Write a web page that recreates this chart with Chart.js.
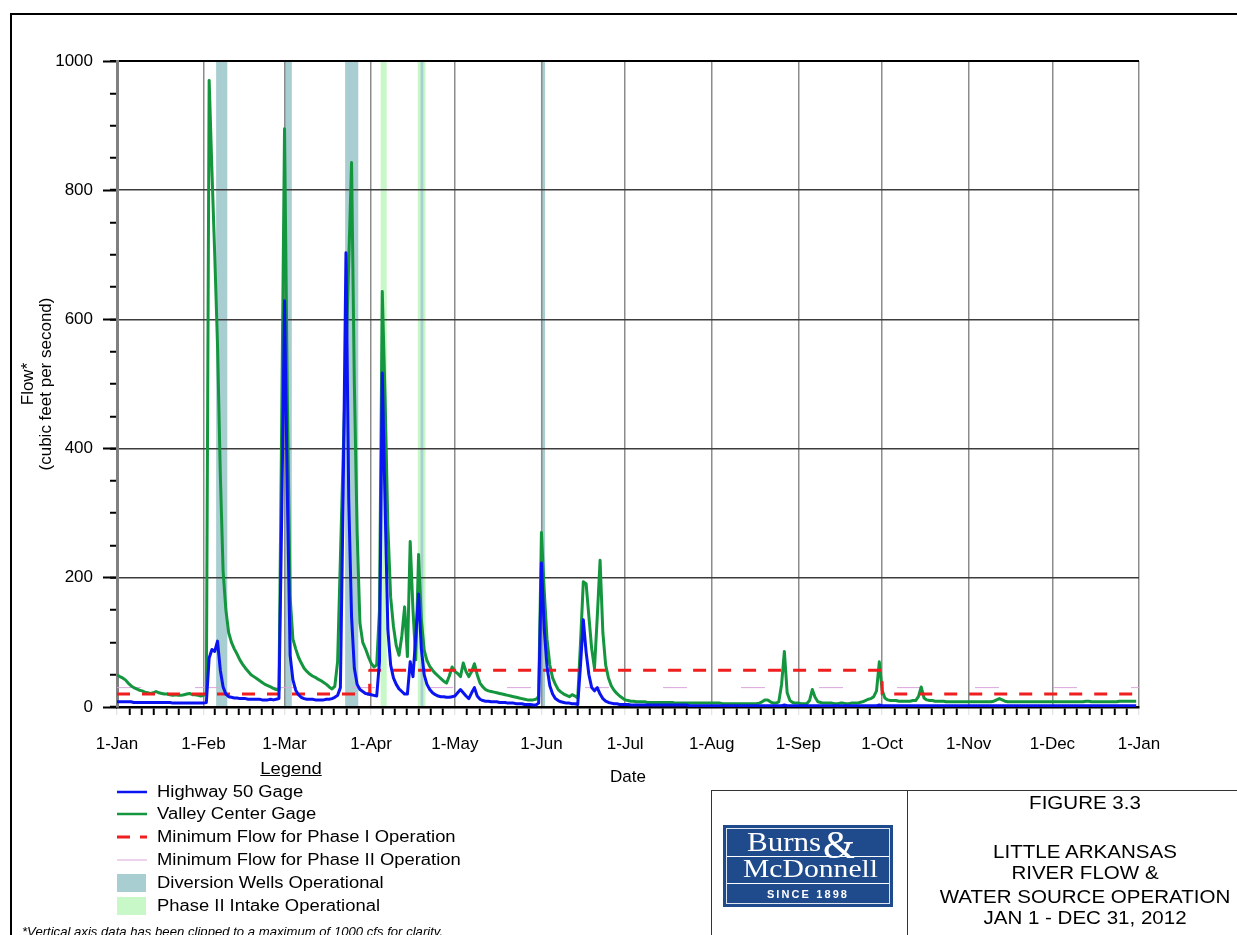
<!DOCTYPE html>
<html>
<head>
<meta charset="utf-8">
<title>Little Arkansas River Flow 2012</title>
<script src="https://cdn.jsdelivr.net/npm/chart.js@4.4.1/dist/chart.umd.min.js"></script>
<style>
  html, body { margin: 0; padding: 0; background: #fff; overflow: hidden; }
  body { width: 1237px; height: 935px; position: relative; font-family: 'Liberation Sans', Arial, sans-serif; color: #000; }
  #chart { position: absolute; left: 0; top: 0; }
  .frame { position: absolute; left: 10px; top: 13px; width: 1300px; height: 1000px; border: 2px solid #000; pointer-events: none; }
  .legend-title { position: absolute; left: 240px; width: 102px; top: 760px; text-align: center; font-size: 16px; text-decoration: underline; transform: scaleX(1.15); }
  .legend-row { position: absolute; left: 117px; height: 20px; width: 400px; }
  .legend-row svg { position: absolute; left: 0; top: 0; }
  .legend-row span { position: absolute; left: 40px; top: 0; line-height: 20px; font-size: 16px; white-space: nowrap; transform: scaleX(1.15); transform-origin: left center; }
  .note { position: absolute; left: 22px; top: 924px; font-size: 13px; line-height: 15px; font-style: italic; white-space: nowrap; transform: scaleX(1.01); transform-origin: left center; }
  .block { position: absolute; left: 711px; top: 790px; width: 600px; height: 200px; border: 1.5px solid #333; }
  .divider { position: absolute; left: 907px; top: 790px; width: 0; height: 200px; border-left: 1.5px solid #333; }
  .tline { position: absolute; left: 908px; width: 354px; text-align: center; font-size: 18.5px; line-height: 22px; white-space: nowrap; transform: scaleX(1.11); }
  .logo { position: absolute; left: 723px; top: 825px; width: 170px; height: 82px; background: #1f4a8b; color: #fff; overflow: hidden; }
  .logo .inner { position: absolute; left: 3px; top: 3px; right: 3px; bottom: 3px; border: 1px solid rgba(255,255,255,0.85); }
  .logo .serif { position: absolute; font-family: 'Liberation Serif', 'DejaVu Serif', serif; line-height: 1; white-space: nowrap; transform-origin: left center; }
  .logo .rule { position: absolute; left: 4px; right: 4px; height: 1px; background: #fff; }
  .logo .since { position: absolute; left: 0; right: 0; top: 63px; text-align: center; font-size: 11px; font-weight: bold; letter-spacing: 2.1px; line-height: 12px; }
</style>
</head>
<body>
<canvas id="chart" width="1237" height="935"></canvas>
<div class="frame"></div>
<div id="legend"></div>
<div class="note">*Vertical axis data has been clipped to a maximum of 1000 cfs for clarity.</div>
<div class="block"></div>
<div class="divider"></div>
<div class="logo">
  <div class="inner"></div>
  <div class="rule" style="top:31px"></div>
  <div class="rule" style="top:58px"></div>
  <span class="serif" style="left:24px;top:4px;font-size:27px;transform:scaleX(1.15)">Burns</span>
  <span class="serif" style="left:100px;top:-1px;font-size:41px">&amp;</span>
  <span class="serif" style="left:20px;top:31px;font-size:26px;transform:scaleX(1.14)">McDonnell</span>
  <div class="since">SINCE 1898</div>
</div>
<div class="tline" style="top:792px">FIGURE 3.3</div>
<div class="tline" style="top:841px">LITTLE ARKANSAS</div>
<div class="tline" style="top:862px">RIVER FLOW &amp;</div>
<div class="tline" style="top:886px">WATER SOURCE OPERATION</div>
<div class="tline" style="top:907px">JAN 1 - DEC 31, 2012</div>
<script>
// Daily flow in cfs, 2012 (leap year)
const highwayJan = [8,8,8,8,8,8,7,7,7,7, 7,7,7,7,7,7,7,7,7,7, 6,6,6,6,6,6,6,6,6,6, 6];
const highwayFeb = [6,7,76,89,86,102,57,31,20,16, 15,14,14,13,13,13,12,12,12,12, 12,11,11,11,12,11,12,13,300];
const highwayMar = [629,330,80,42,26,19,15,13,12,12, 12,11,11,11,11,12,12,13,15,18, 30,330,703,320,140,60,35,27,24,21, 20];
const highwayApr = [19,18,17,70,517,315,120,65,45,35, 28,24,20,20,70,47,110,175,90,50, 35,27,22,19,17,16,16,15,15,16];
const highwayMay = [17,22,27,22,17,13,22,30,17,12, 10,9,9,8,8,8,7,7,7,6, 6,6,5,5,5,4,4,4,3,3, 6];
const highwayJun = [223,120,62,33,20,13,10,8,7,6, 6,5,5,4,65,135,85,50,30,25, 30,20,13,9,7,6,5,5,4,4];
const highwayJul = [4,4,3,3,3,3,3,3,3,3, 3,3,3,3,3,3,3,3,3,3, 3,3,3,2,2,2,2,2,2,2, 2];
const highwayAug = [2,2,2,2,2,2,2,2,2,2, 2,2,2,2,2,2,2,2,2,2, 2,2,2,2,2,2,3,2,2,2, 2];
const highwaySep = [2,2,2,2,2,2,2,2,2,2, 2,2,2,2,2,2,2,2,2,2, 2,2,2,2,2,2,2,2,2,3];
const highwayOct = [2,2,2,2,2,2,2,2,2,2, 2,2,2,2,2,2,2,2,2,2, 2,2,2,2,2,2,2,2,2,2, 2];
const highwayNov = [2,2,2,2,2,2,2,2,2,2, 2,2,2,2,2,2,2,2,2,2, 2,2,2,2,2,2,2,2,2,2];
const highwayDec = [2,2,2,2,2,2,2,2,2,2, 2,2,2,2,2,2,2,2,2,2, 2,2,2,2,2,2,2,2,2,2, 2];

const valleyJan = [50,47,45,42,37,33,30,28,26,25, 23,22,21,22,24,22,21,20,20,19, 18,19,18,18,19,20,21,19,19,18, 17];
const valleyFeb = [18,22,970,830,700,560,360,210,150,115, 100,90,82,73,66,60,55,50,47,44, 41,38,35,33,31,29,27,26,450];
const valleyMar = [895,480,170,105,90,77,68,60,55,51, 48,46,43,41,38,35,31,28,32,70, 230,390,540,690,843,500,270,130,100,90, 78];
const valleyApr = [68,62,65,150,643,480,280,170,125,95, 80,110,155,78,256,150,73,236,135,88, 72,63,57,52,48,44,40,37,48,62];
const valleyMay = [55,52,47,68,55,47,55,67,50,37, 31,27,25,24,23,22,21,20,19,18, 17,16,15,14,13,12,11,11,11,12, 16];
const valleyJun = [270,180,105,65,45,35,27,23,20,18, 16,19,17,14,100,194,191,140,90,60, 140,227,115,65,45,33,26,21,17,14];
const valleyJul = [11,10,9,9,8,8,8,8,7,7, 7,7,7,7,7,7,7,7,6,6, 6,6,6,6,6,6,6,6,6,6, 6];
const valleyAug = [6,6,6,6,5,5,5,5,5,5, 5,5,5,5,5,5,5,6,8,11, 11,8,6,6,8,35,86,22,10,7, 6];
const valleySep = [6,5,5,5,10,27,15,8,7,6, 6,6,6,5,5,6,6,5,5,6, 6,6,7,8,10,12,13,16,25,70];
const valleyOct = [26,14,11,10,10,10,9,9,9,9, 9,10,10,16,31,14,11,10,10,9, 9,9,9,8,8,8,8,8,8,8, 8];
const valleyNov = [8,8,8,8,8,8,8,8,8,9, 11,13,11,9,8,8,8,8,8,8, 8,8,8,8,8,8,8,8,8,8];
const valleyDec = [8,8,8,8,8,8,8,8,8,8, 8,8,9,9,8,8,8,8,8,8, 8,8,8,8,9,9,9,9,9,9, 9];

// day of year (0 = 1-Jan) where each month starts, and the axis labels
const monthStarts = [0, 31, 60, 91, 121, 152, 182, 213, 244, 274, 305, 335, 366];
const monthLabels = ['1-Jan', '1-Feb', '1-Mar', '1-Apr', '1-May', '1-Jun', '1-Jul', '1-Aug', '1-Sep', '1-Oct', '1-Nov', '1-Dec', '1-Jan'];

// minimum flow thresholds
const phase1Days = [0, 90.5, 90.5, 274, 274, 366];
const phase1Flow = [20, 20, 57, 57, 20, 20];
const phase2Days = [0, 366];
const phase2Flow = [30, 30];

// operating periods (day of year)
const wellStart = [35.5, 59.9, 81.7, 108.7, 151.8];
const wellEnd = [39.5, 62.6, 86.4, 109.7, 153.3];
const intakeStart = [94.4, 107.7];
const intakeEnd = [96.6, 110.5];

const BLUE = '#0a14f0';
const GREEN = '#14963f';
const RED = '#f01e1e';
const PINK = '#dca6dc';
const WELL_COLOR = '#a8ced2';
const INTAKE_COLOR = '#c8f8c8';
const FONT = "'Liberation Sans', Arial, sans-serif";

const highway50 = [].concat(highwayJan, highwayFeb, highwayMar, highwayApr, highwayMay, highwayJun,
    highwayJul, highwayAug, highwaySep, highwayOct, highwayNov, highwayDec);
const valleyCenter = [].concat(valleyJan, valleyFeb, valleyMar, valleyApr, valleyMay, valleyJun,
    valleyJul, valleyAug, valleySep, valleyOct, valleyNov, valleyDec);

const daily = flows => flows.map((v, i) => ({ x: i, y: v }));
const paired = (days, flows) => days.map((d, i) => ({ x: d, y: flows[i] }));
const isMonth = v => monthStarts.includes(v);

// shaded operating periods, drawn under the grid
const bandsPlugin = {
    id: 'bands',
    beforeDraw(chart) {
        const { ctx, chartArea: area, scales: { x } } = chart;
        const paint = (starts, ends, color) => {
            ctx.fillStyle = color;
            starts.forEach((s, i) => {
                const x0 = x.getPixelForValue(s);
                const x1 = x.getPixelForValue(ends[i]);
                ctx.fillRect(x0, area.top, x1 - x0, area.bottom - area.top);
            });
        };
        ctx.save();
        paint(intakeStart, intakeEnd, INTAKE_COLOR);
        paint(wellStart, wellEnd, WELL_COLOR);
        ctx.restore();
    }
};

new Chart(document.getElementById('chart'), {
    type: 'line',
    data: {
        datasets: [
            { label: 'Highway 50 Gage', data: daily(highway50), borderColor: BLUE, borderWidth: 3 },
            { label: 'Minimum Flow for Phase I Operation', data: paired(phase1Days, phase1Flow), borderColor: RED, borderWidth: 3, borderDash: [13, 12] },
            { label: 'Valley Center Gage', data: daily(valleyCenter), borderColor: GREEN, borderWidth: 3 },
            { label: 'Minimum Flow for Phase II Operation', data: paired(phase2Days, phase2Flow), borderColor: PINK, borderWidth: 1, borderDash: [24, 54] }
        ]
    },
    options: {
        responsive: false,
        animation: false,
        layout: { padding: { left: 0, top: 61, right: 98, bottom: 138 } },
        elements: {
            point: { radius: 0 },
            line: { tension: 0, borderJoinStyle: 'round', fill: false }
        },
        plugins: { legend: { display: false }, tooltip: { enabled: false } },
        scales: {
            x: {
                type: 'linear',
                min: 0,
                max: 366,
                afterBuildTicks(scale) {
                    const ticks = [];
                    monthStarts.forEach((s, i) => {
                        ticks.push({ value: s });
                        if (i < monthStarts.length - 1) {
                            const step = (monthStarts[i + 1] - s) / 7;
                            for (let k = 1; k < 7; k++) ticks.push({ value: s + k * step });
                        }
                    });
                    scale.ticks = ticks;
                },
                afterFit(scale) { scale.height = 90; },
                ticks: {
                    autoSkip: false, maxRotation: 0, minRotation: 0, padding: 19,
                    color: '#000', font: { family: FONT, size: 17 },
                    callback: v => { const i = monthStarts.indexOf(v); return i >= 0 ? monthLabels[i] : ''; }
                },
                grid: {
                    color: c => isMonth(c.tick.value) ? '#8c8c8c' : 'rgba(0,0,0,0)',
                    lineWidth: 1.5,
                    tickColor: c => isMonth(c.tick.value) ? '#dddddd' : '#000',
                    tickWidth: c => isMonth(c.tick.value) ? 1 : 2,
                    tickLength: 8
                },
                border: { color: '#000', width: 2.5 },
                title: { display: true, text: 'Date', color: '#000', font: { family: FONT, size: 17 }, padding: { top: 0, bottom: 9 } }
            },
            y: {
                type: 'linear',
                position: 'left',
                weight: 1,
                min: 0,
                max: 1000,
                afterFit(scale) { scale.width = 117; },
                ticks: {
                    stepSize: 50, autoSkip: false, padding: 17,
                    color: '#000', font: { family: FONT, size: 17 },
                    callback: v => v % 200 === 0 ? String(v) : ''
                },
                grid: {
                    color: c => c.tick.value === 1000 ? '#000' : (c.tick.value % 200 === 0 && c.tick.value > 0 ? '#3c3c3c' : 'rgba(0,0,0,0)'),
                    lineWidth: c => c.tick.value === 1000 ? 2 : 1.5,
                    tickColor: '#000',
                    tickWidth: 2,
                    tickLength: 7
                },
                border: { color: '#808080', width: 3 },
                title: {
                    display: true, text: ['Flow*', '(cubic feet per second)'], color: '#000',
                    font: { family: FONT, size: 17, lineHeight: 1.06 }, padding: { top: 19, bottom: 0 }
                }
            },
            yMajor: {
                type: 'linear',
                position: 'left',
                weight: 0,
                min: 0,
                max: 1000,
                afterFit(scale) { scale.width = 0; },
                ticks: { stepSize: 200, display: false },
                grid: { drawOnChartArea: false, tickColor: '#000', tickWidth: 2, tickLength: 14 },
                border: { display: false }
            }
        }
    },
    plugins: [bandsPlugin]
});

// legend below the plot
const legendEntries = [
    { label: 'Highway 50 Gage', kind: 'line', color: BLUE },
    { label: 'Valley Center Gage', kind: 'line', color: GREEN },
    { label: 'Minimum Flow for Phase I Operation', kind: 'dash', color: RED },
    { label: 'Minimum Flow for Phase II Operation', kind: 'thin', color: PINK },
    { label: 'Diversion Wells Operational', kind: 'box', color: WELL_COLOR },
    { label: 'Phase II Intake Operational', kind: 'box', color: INTAKE_COLOR }
];
const legendTops = [782, 804, 827, 850, 873, 896];

const legendEl = document.getElementById('legend');
legendEl.innerHTML = '<div class="legend-title">Legend</div>';
legendEntries.forEach((e, i) => {
    let mark = '';
    if (e.kind === 'line') mark = `<line x1="0" y1="10" x2="30" y2="10" stroke="${e.color}" stroke-width="2.5"/>`;
    else if (e.kind === 'dash') mark = `<line x1="0" y1="10" x2="30" y2="10" stroke="${e.color}" stroke-width="3" stroke-dasharray="13 10"/>`;
    else if (e.kind === 'thin') mark = `<line x1="0" y1="10" x2="30" y2="10" stroke="${e.color}" stroke-width="1"/>`;
    else mark = `<rect x="0" y="1" width="29" height="18" fill="${e.color}"/>`;
    const row = document.createElement('div');
    row.className = 'legend-row';
    row.style.top = legendTops[i] + 'px';
    row.innerHTML = `<svg width="32" height="20">${mark}</svg><span>${e.label}</span>`;
    legendEl.appendChild(row);
});
</script>
</body>
</html>
